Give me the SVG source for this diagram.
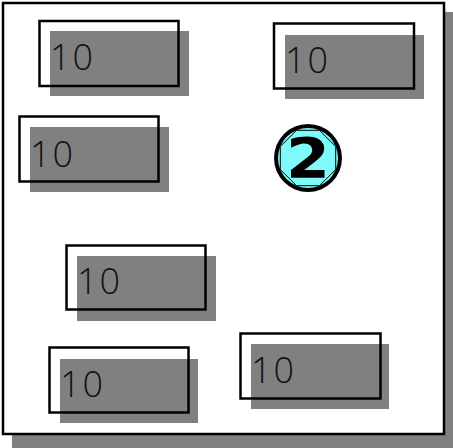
<svg xmlns="http://www.w3.org/2000/svg" width="453" height="448" viewBox="0 0 453 448">
<style>
.sh{fill:#808080}
.ol{fill:none;stroke:#000;stroke-width:2.5}
.t{font-family:"Open Sans","DejaVu Sans",sans-serif;font-weight:300;font-size:36px;letter-spacing:2px;fill:#111}
</style>
<g id="frame">
<rect x="12" y="12" width="441" height="436" class="sh"/>
<rect x="3" y="3" width="441" height="431" fill="#fff" stroke="#000" stroke-width="2.5"/>
</g>
<g id="n1"><rect x="50" y="31" width="139" height="65" class="sh"/><text x="50" y="70" class="t">10</text><rect x="39.5" y="21" width="139" height="65" class="ol"/></g>
<g id="n2"><rect x="285" y="35" width="139" height="64" class="sh"/><text x="285" y="73" class="t">10</text><rect x="274" y="23.5" width="140" height="65" class="ol"/></g>
<g id="n3"><rect x="30" y="127" width="139" height="65" class="sh"/><text x="30" y="167" class="t">10</text><rect x="19.5" y="116.5" width="139" height="65" class="ol"/></g>
<g id="n4"><rect x="77" y="256" width="139" height="65" class="sh"/><text x="77" y="294" class="t">10</text><rect x="66.5" y="245.5" width="139" height="64" class="ol"/></g>
<g id="n5"><rect x="60" y="359" width="138" height="64" class="sh"/><text x="60" y="397" class="t">10</text><rect x="49.5" y="347.5" width="139" height="65" class="ol"/></g>
<g id="n6"><rect x="251" y="344" width="138" height="65" class="sh"/><text x="251" y="383" class="t">10</text><rect x="240.5" y="333.5" width="140" height="65" class="ol"/></g>
<g id="badge">
<circle cx="308" cy="158" r="34" fill="#000"/>
<circle cx="308" cy="158" r="30" fill="#7ffafa"/>
<polygon points="319.5,130.3 335.7,146.5 335.7,169.5 319.5,185.7 296.5,185.7 280.3,169.5 280.3,146.5 296.5,130.3" fill="none" stroke="#000" stroke-width="1"/>
<text x="308" y="177" text-anchor="middle" font-family="DejaVu Sans" font-weight="bold" font-size="55" fill="#000" transform="translate(308 0) scale(1.15 1) translate(-308 0)">2</text>
</g>
<g id="connectors"/>
</svg>
